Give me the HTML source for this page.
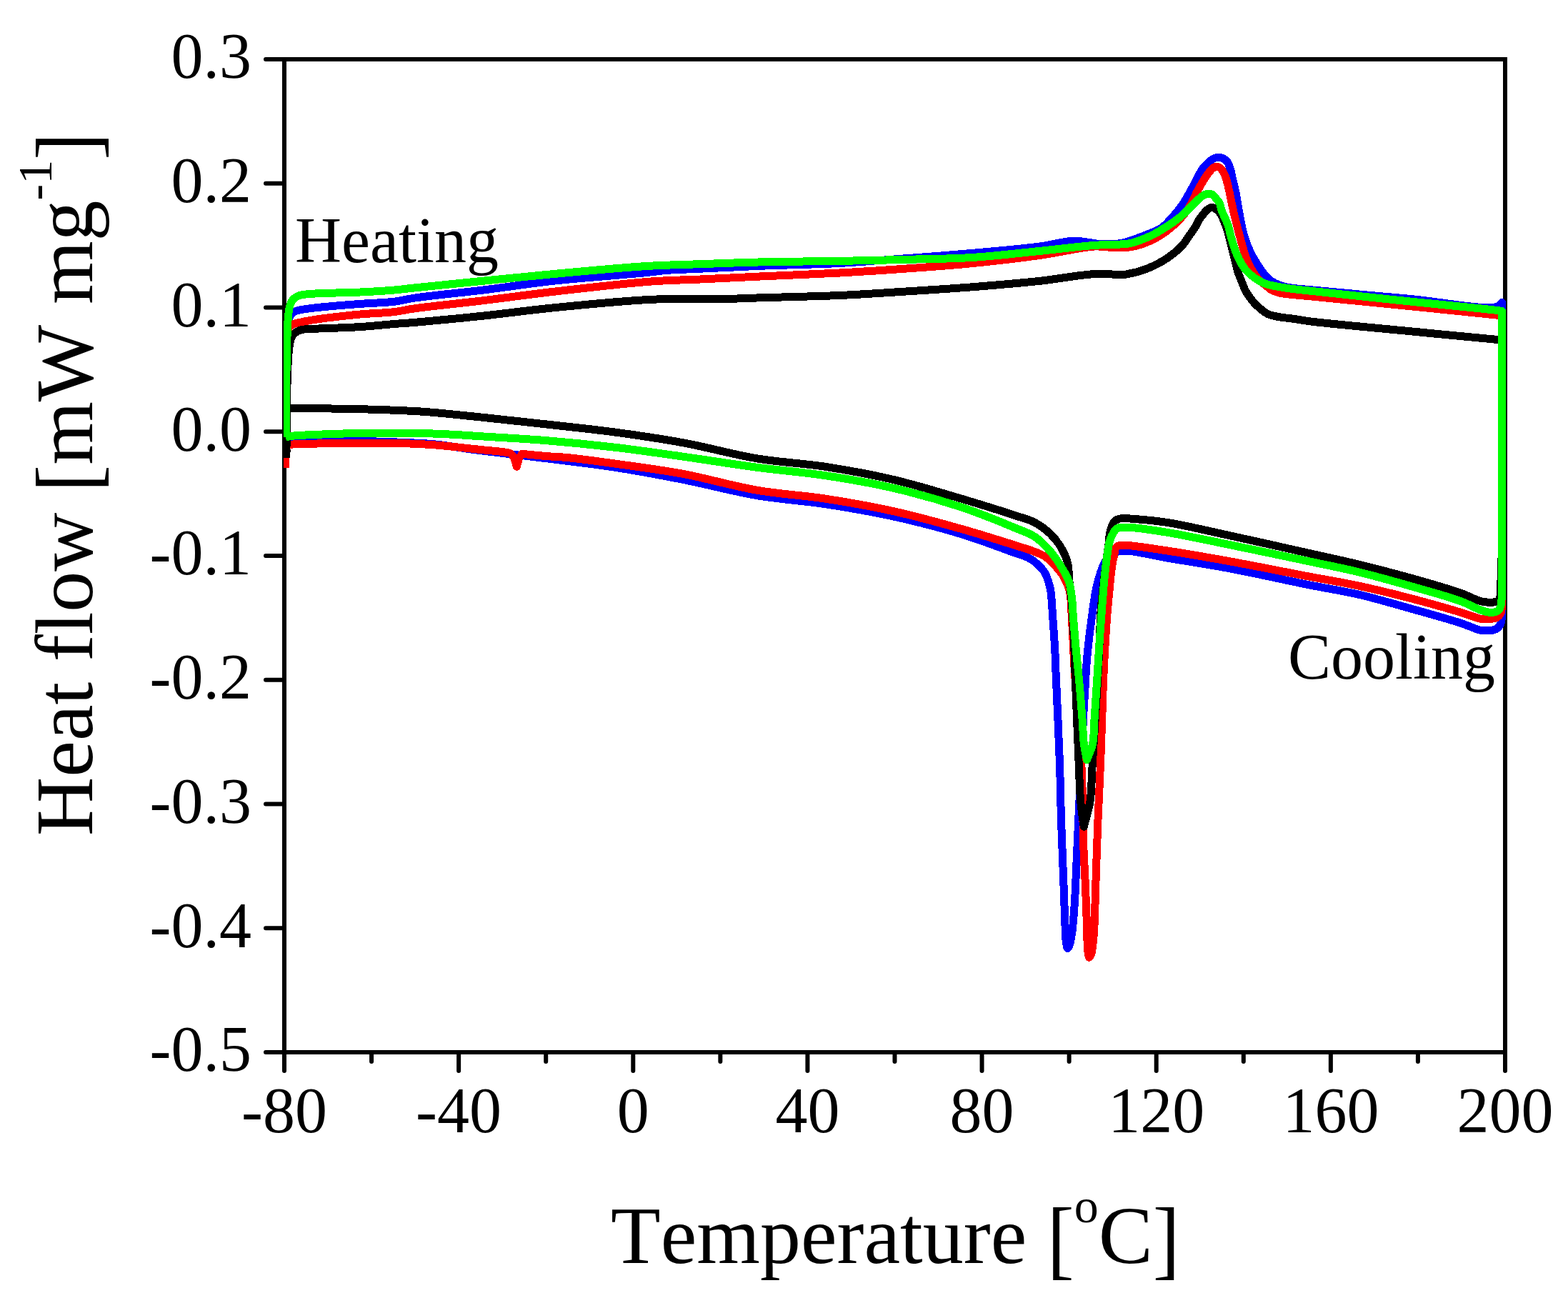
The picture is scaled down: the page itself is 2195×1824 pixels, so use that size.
<!DOCTYPE html>
<html lang="en"><head><meta charset="utf-8"><title>DSC heat flow</title>
<style>
html,body{margin:0;padding:0;background:#fff;}
body{width:2195px;height:1824px;overflow:hidden;}
svg{display:block;}
text{font-family:"Liberation Serif","Times New Roman",serif;fill:#000;font-kerning:none;font-variant-ligatures:none;font-feature-settings:"kern" 0,"liga" 0;}
.tick{font-size:90px;}
.ttl{font-size:114px;}
.ax{stroke:#000;stroke-width:6;fill:none;stroke-linecap:round;}
.cv{fill:none;stroke-width:8;stroke-linejoin:round;stroke-linecap:round;}
</style></head><body>
<svg width="2195" height="1824" viewBox="0 0 2195 1824">
<rect width="2195" height="1824" fill="#fff"/>

<g class="ax">
<path d="M398 83V1473M2107 83V1473M398 83H2107M398 1473H2107" stroke-linecap="square" shape-rendering="crispEdges"/>
<path d="M398 83.00h-26M398 256.75h-26M398 430.50h-26M398 604.25h-26M398 778.00h-26M398 951.75h-26M398 1125.50h-26M398 1299.25h-26M398 1473.00h-26M398.00 1473v26M520.07 1473v13M642.14 1473v26M764.21 1473v13M886.29 1473v26M1008.36 1473v13M1130.43 1473v26M1252.50 1473v13M1374.57 1473v26M1496.64 1473v13M1618.71 1473v26M1740.79 1473v13M1862.86 1473v26M1984.93 1473v13M2107.00 1473v26"/>
</g>
<clipPath id="pc"><rect x="397" y="60" width="1711" height="1430"/></clipPath>
<g clip-path="url(#pc)" fill="none" stroke-width="11" stroke-linejoin="round" stroke-linecap="butt" shape-rendering="crispEdges">
<path stroke="#0000ff" d="M400.0 625.0C400.2 590.0 400.1 549.8 400.5 520.0C400.8 497.8 400.5 475.0 401.8 462.0C402.5 455.3 403.3 451.0 404.5 447.0C405.3 444.2 406.2 441.8 407.5 440.0C408.5 438.6 409.5 437.7 411.0 436.8C413.0 435.6 415.4 435.0 418.7 434.2C424.0 432.9 431.1 432.1 440.2 431.0C455.8 429.2 484.2 426.9 504.0 425.4C521.1 424.1 538.1 423.9 552.0 422.2C562.8 420.9 568.2 418.9 580.5 417.1C602.9 413.8 643.6 410.0 675.7 406.1C708.5 402.1 739.7 397.1 775.0 393.2C815.1 388.8 876.4 384.5 903.8 381.7C916.6 380.4 921.3 379.4 932.0 378.5C945.9 377.4 961.7 377.1 980.0 376.2C1004.5 375.0 1035.4 373.4 1065.7 372.2C1099.9 370.8 1145.3 370.1 1175.0 368.5C1195.5 367.4 1205.7 366.4 1227.0 364.8C1261.2 362.3 1319.8 358.0 1360.5 354.4C1394.9 351.4 1429.5 348.4 1455.7 345.0C1474.3 342.6 1488.3 337.6 1503.3 337.2C1516.7 336.9 1529.6 341.2 1541.4 341.6C1551.6 342.0 1560.7 342.0 1570.0 340.3C1579.3 338.6 1588.2 335.0 1597.3 331.5C1606.8 327.9 1618.4 324.0 1626.0 318.9C1632.0 314.8 1635.7 310.0 1640.3 305.0C1645.2 299.6 1650.1 294.0 1654.6 287.5C1659.7 280.2 1664.2 271.4 1668.9 263.0C1673.8 254.4 1678.6 243.0 1683.3 236.5C1686.4 232.1 1689.4 229.2 1692.5 226.5C1695.1 224.3 1697.7 222.3 1700.2 221.3C1702.2 220.5 1704.1 220.5 1706.0 220.5C1707.9 220.5 1709.8 220.7 1711.6 221.5C1713.7 222.4 1716.0 224.0 1717.7 226.1C1719.8 228.7 1721.1 232.8 1722.4 236.7C1723.8 241.1 1724.4 246.2 1725.6 251.3C1726.9 256.9 1728.5 262.4 1729.9 269.1C1731.6 277.5 1733.0 287.9 1734.8 297.6C1736.7 307.8 1738.3 318.8 1741.3 328.9C1744.3 338.8 1747.5 347.9 1752.8 357.6C1759.1 368.9 1768.9 384.7 1777.8 392.0C1784.2 397.2 1789.8 398.9 1797.9 401.2C1809.2 404.4 1822.0 404.3 1840.0 406.2C1871.9 409.5 1929.6 414.3 1972.9 418.3C2014.3 422.1 2077.9 434.4 2094.3 429.7C2099.1 428.3 2099.8 425.6 2102.5 423.5L2102.5 423.5L2102.6 861.4L2102.6 861.4C2102.2 864.7 2102.4 868.4 2101.4 871.4C2100.5 874.1 2099.0 876.8 2097.1 878.6C2095.2 880.3 2092.6 881.4 2090.0 882.1C2087.3 882.9 2084.3 882.9 2081.4 882.9C2078.6 882.9 2076.5 883.1 2072.9 882.4C2066.1 881.0 2056.1 875.9 2044.3 872.1C2025.9 866.1 1996.7 858.1 1972.9 851.4C1949.1 844.7 1925.3 837.6 1901.4 832.1C1877.7 826.6 1856.3 823.6 1830.0 818.3C1797.3 811.7 1754.4 801.9 1720.0 795.5C1689.9 789.9 1660.6 785.6 1635.0 781.2C1614.0 777.6 1590.5 771.6 1577.6 771.1C1571.2 770.8 1567.2 771.1 1563.0 772.5C1559.3 773.7 1556.3 775.5 1553.5 778.0C1550.4 780.8 1548.1 784.2 1545.6 789.0C1541.8 796.6 1538.1 808.9 1535.3 820.3C1532.1 833.4 1530.6 847.9 1528.5 863.3C1526.0 881.0 1523.4 902.2 1521.7 920.6C1520.2 937.7 1519.5 956.2 1518.6 970.0C1518.0 980.0 1517.7 983.6 1517.0 995.8C1515.4 1025.6 1511.4 1111.1 1509.6 1150.0C1508.5 1173.7 1507.9 1188.2 1507.0 1207.3C1506.1 1226.4 1505.5 1247.2 1504.3 1264.6C1503.3 1279.3 1502.3 1294.4 1500.8 1305.0C1499.8 1311.9 1498.9 1317.9 1497.5 1322.0C1496.6 1324.5 1495.3 1327.7 1494.5 1327.6C1493.5 1327.5 1492.9 1322.1 1492.3 1318.0C1491.3 1311.1 1491.3 1300.6 1490.8 1290.0C1490.2 1276.1 1489.8 1260.4 1489.1 1241.7C1488.2 1216.0 1486.6 1180.0 1485.6 1150.0C1484.7 1121.0 1484.4 1095.2 1483.3 1064.6C1482.1 1029.2 1479.6 979.2 1478.4 950.0C1477.6 932.0 1477.4 920.7 1476.6 906.2C1475.8 891.8 1474.6 876.0 1473.7 863.3C1473.0 853.2 1472.5 843.0 1471.8 836.0C1471.4 831.5 1471.2 828.8 1470.5 825.1C1469.8 821.2 1468.7 817.3 1467.4 813.4C1466.0 809.4 1464.7 805.1 1462.4 801.4C1460.0 797.4 1456.3 793.6 1453.0 790.4C1449.9 787.5 1446.5 784.8 1443.2 782.8C1440.3 781.0 1437.7 779.9 1434.3 778.5C1430.1 776.8 1426.6 776.0 1420.0 773.7C1404.9 768.5 1372.2 755.7 1345.7 747.6C1316.1 738.6 1282.4 729.9 1250.5 722.9C1218.9 716.0 1187.0 710.6 1155.2 705.7C1123.5 700.8 1092.3 699.2 1060.0 693.7C1025.9 687.9 989.7 678.0 955.7 671.3C923.3 664.9 892.3 659.1 860.5 654.2C828.8 649.3 797.0 645.8 765.2 641.8C733.5 637.8 698.3 634.0 670.0 630.4C647.3 627.5 627.3 623.7 608.6 621.9C593.1 620.4 581.8 620.1 565.7 619.4C544.9 618.5 519.4 617.4 494.3 617.6C466.4 617.8 417.6 620.5 405.7 621.4C402.7 621.6 401.9 621.8 400.0 622.0"/>
<path stroke="#ff0000" d="M399.5 655.0C399.7 610.0 399.3 553.6 400.0 520.0C400.4 499.9 400.5 482.9 401.8 472.0C402.5 466.3 402.7 462.1 404.5 459.0C405.8 456.7 407.8 455.4 410.0 454.2C412.4 452.8 415.1 452.5 418.7 451.6C424.2 450.2 431.1 448.9 440.2 447.5C455.8 445.1 484.2 441.9 504.0 440.0C521.1 438.4 538.1 438.3 552.0 436.6C562.8 435.3 568.2 433.5 580.5 431.8C602.9 428.6 643.6 424.7 675.7 420.8C708.5 416.8 739.2 412.4 775.0 408.3C817.2 403.4 875.2 396.7 913.0 393.9C939.3 392.0 956.3 392.1 980.0 391.0C1006.8 389.8 1035.1 388.3 1065.7 386.9C1101.1 385.3 1144.7 383.7 1180.0 381.8C1210.4 380.1 1235.8 378.4 1265.0 376.3C1295.9 374.1 1328.7 371.8 1360.5 368.7C1392.3 365.5 1425.8 361.6 1455.7 357.4C1482.6 353.6 1514.9 345.9 1531.9 345.0C1540.4 344.5 1543.8 345.8 1551.0 346.0C1560.3 346.2 1572.8 347.4 1583.0 345.7C1592.9 344.1 1602.3 340.9 1611.6 336.5C1621.5 331.8 1631.8 325.0 1640.3 317.8C1648.5 310.9 1655.6 303.3 1661.8 294.6C1668.2 285.6 1672.7 273.4 1677.8 264.5C1682.0 257.1 1686.1 249.8 1690.0 244.5C1692.9 240.6 1695.9 236.6 1698.5 234.9C1700.1 233.9 1701.5 233.4 1703.0 233.4C1704.5 233.4 1706.1 233.7 1707.5 234.7C1709.4 236.0 1711.3 238.8 1712.8 241.5C1714.7 244.8 1715.8 248.1 1717.4 253.5C1720.5 263.9 1724.3 286.1 1727.7 300.3C1730.5 312.2 1733.5 323.2 1736.1 332.9C1738.2 340.7 1739.9 347.5 1742.1 354.1C1744.1 360.1 1746.3 366.1 1748.7 371.1C1750.8 375.4 1753.1 379.0 1755.5 382.5C1757.7 385.8 1759.6 388.7 1762.4 391.6C1765.6 395.0 1770.7 398.7 1774.0 401.4C1776.4 403.3 1777.9 404.9 1780.4 406.2C1783.2 407.7 1786.6 408.9 1790.2 409.8C1794.3 410.9 1798.5 411.3 1803.9 412.0C1811.6 413.0 1822.9 413.7 1832.3 414.6C1841.7 415.5 1847.9 416.2 1860.4 417.4C1885.4 419.9 1934.7 424.7 1972.9 428.6C2012.6 432.6 2077.6 439.1 2094.3 441.0C2098.6 441.5 2099.8 441.7 2102.5 442.0L2102.5 442.0L2102.6 850.0L2102.6 850.0C2102.0 852.9 2101.9 856.2 2100.7 858.6C2099.6 860.9 2097.8 863.0 2095.7 864.3C2093.4 865.7 2090.0 866.0 2087.1 866.4C2084.3 866.8 2081.2 866.7 2078.6 866.7C2076.5 866.7 2075.5 866.9 2072.9 866.4C2067.0 865.3 2056.0 860.6 2044.3 857.1C2025.9 851.5 1996.8 843.3 1972.9 837.1C1949.1 830.9 1925.3 825.1 1901.4 820.0C1877.7 814.9 1856.4 811.6 1830.0 806.6C1797.3 800.4 1754.3 791.7 1720.0 785.5C1689.9 780.1 1660.6 775.0 1635.0 771.1C1614.0 767.9 1588.3 764.1 1577.6 763.3C1573.5 763.0 1571.4 762.9 1569.0 763.2C1567.2 763.4 1565.8 763.7 1564.5 764.5C1563.3 765.3 1562.2 766.5 1561.5 768.0C1560.5 770.0 1560.5 773.1 1559.9 775.9C1559.2 779.2 1558.4 782.8 1557.7 786.6C1556.9 791.0 1556.3 795.7 1555.6 801.0C1554.8 807.4 1554.2 814.1 1553.4 822.4C1552.3 833.8 1550.8 848.5 1549.7 863.3C1548.4 880.8 1547.1 902.2 1546.1 920.6C1545.2 937.7 1544.6 950.9 1543.9 970.0C1542.9 996.5 1541.9 1033.9 1540.7 1064.6C1539.6 1093.8 1538.1 1121.0 1536.9 1150.0C1535.7 1180.0 1534.6 1214.7 1533.7 1241.7C1533.0 1263.0 1532.7 1283.6 1531.8 1299.0C1531.2 1309.4 1530.5 1318.1 1529.5 1325.0C1528.9 1329.6 1528.4 1333.8 1527.3 1336.5C1526.6 1338.2 1525.6 1340.4 1524.9 1340.3C1524.0 1340.2 1523.5 1336.1 1523.0 1333.0C1522.2 1327.5 1522.1 1318.4 1521.8 1310.0C1521.4 1299.8 1521.2 1287.4 1520.8 1276.0C1520.4 1264.6 1520.0 1254.6 1519.5 1241.7C1518.8 1225.0 1517.6 1206.2 1516.8 1184.0C1515.7 1153.6 1515.9 1113.4 1514.1 1076.0C1512.1 1035.6 1507.4 987.3 1505.0 950.0C1503.1 920.3 1501.9 891.6 1500.6 870.0C1499.7 855.3 1499.7 842.1 1498.3 833.0C1497.5 827.6 1496.5 823.8 1495.2 820.2C1494.1 817.3 1492.8 815.3 1491.5 812.8C1490.2 810.3 1489.3 807.7 1487.6 805.1C1485.6 801.9 1482.6 798.4 1480.0 795.3C1477.5 792.3 1475.2 789.5 1472.4 786.8C1469.5 784.0 1466.5 781.3 1462.8 779.0C1458.7 776.4 1454.3 774.7 1448.7 772.5C1440.9 769.4 1431.8 766.8 1420.0 763.0C1401.0 757.0 1372.1 747.8 1345.7 740.4C1316.0 732.0 1282.4 722.7 1250.5 715.6C1218.9 708.6 1187.0 703.0 1155.2 698.1C1123.5 693.2 1092.3 691.9 1060.0 686.3C1025.9 680.4 989.8 669.6 955.7 663.3C923.3 657.3 889.2 653.0 860.5 649.0C836.8 645.7 813.3 642.4 795.7 640.7C783.7 639.5 775.7 639.5 765.2 638.6C754.1 637.7 742.4 636.4 731.0 635.3L731.0 635.3C729.7 637.2 728.2 638.6 727.0 641.0C725.4 644.2 724.5 649.1 723.3 653.2L723.3 653.2C722.0 649.1 721.2 644.2 719.5 641.0C718.2 638.5 716.9 636.3 715.0 635.0C713.1 633.7 711.4 633.8 708.1 633.2C700.5 631.8 684.2 630.7 670.0 629.2C652.0 627.3 627.3 624.3 608.6 622.9C593.0 621.7 581.8 621.1 565.7 620.7C544.9 620.1 516.0 620.3 494.3 620.4C476.2 620.5 459.9 620.6 444.3 621.0C430.6 621.3 412.8 621.7 405.7 622.3C402.9 622.5 401.9 622.8 400.0 623.0"/>
<path stroke="#000000" d="M401.0 640.7C401.1 620.5 400.9 600.2 401.2 580.0C401.5 559.9 401.9 536.7 402.6 520.0C403.1 508.0 403.6 497.3 404.6 489.0C405.3 483.4 405.7 478.7 407.0 475.0C407.9 472.3 409.0 470.2 410.5 468.3C412.0 466.5 414.0 465.1 416.0 464.0C418.1 462.8 420.1 462.0 423.0 461.4C427.4 460.5 432.6 460.7 440.2 460.3C454.7 459.5 484.3 458.9 504.0 457.6C521.1 456.5 538.1 454.6 552.0 453.5C562.7 452.6 568.2 452.4 580.5 451.4C603.0 449.5 643.6 445.6 675.7 442.2C708.5 438.7 739.1 434.4 775.0 430.8C817.3 426.6 871.4 421.1 913.3 419.2C948.0 417.7 980.9 419.2 1008.6 418.7C1030.1 418.3 1043.4 417.5 1065.7 416.8C1097.3 415.8 1144.7 414.9 1180.0 413.3C1210.4 411.9 1235.8 410.1 1265.0 408.2C1295.9 406.2 1328.7 404.3 1360.5 401.8C1392.3 399.3 1425.8 396.5 1455.7 393.3C1482.5 390.4 1510.8 384.7 1531.9 383.6C1546.7 382.8 1562.9 384.7 1570.0 384.5C1572.8 384.4 1573.2 384.5 1575.8 384.1C1581.8 383.1 1595.1 380.1 1604.5 376.5C1614.2 372.8 1624.5 367.6 1633.1 361.9C1641.1 356.6 1648.9 350.2 1654.6 344.0C1659.4 338.9 1662.7 332.9 1666.0 328.2C1668.7 324.4 1671.1 321.2 1673.2 317.8C1675.0 314.7 1676.1 311.6 1677.9 308.8C1679.6 306.0 1681.6 303.4 1683.6 300.9C1685.6 298.3 1687.9 295.3 1690.0 293.5C1691.5 292.2 1693.0 291.3 1694.5 290.8C1695.8 290.4 1697.2 290.3 1698.5 290.6C1699.7 290.9 1700.8 291.6 1702.0 292.5C1703.7 293.7 1705.8 295.5 1707.3 297.5C1709.0 299.7 1710.3 302.4 1711.6 305.2C1713.1 308.4 1714.7 312.6 1715.9 315.9C1716.9 318.6 1717.6 320.3 1718.5 323.5C1720.0 328.5 1721.9 336.9 1723.5 343.3C1725.0 349.4 1726.5 354.9 1728.0 361.0C1729.7 367.5 1731.2 375.4 1733.1 381.3C1734.6 386.0 1736.3 389.4 1738.0 393.6C1739.8 398.0 1741.5 403.2 1743.5 407.0C1745.2 410.2 1746.9 412.5 1748.9 415.2C1751.0 418.1 1753.0 421.0 1755.6 423.9C1758.7 427.2 1762.9 431.0 1766.4 433.8C1769.4 436.2 1771.6 438.2 1775.1 439.8C1779.3 441.7 1784.5 442.5 1790.0 443.6C1796.6 444.9 1804.8 445.4 1812.2 446.5C1819.8 447.6 1824.2 448.6 1835.0 450.0C1861.5 453.3 1928.4 459.3 1972.9 463.6C2014.7 467.7 2077.5 473.8 2094.3 475.3C2098.7 475.7 2099.8 475.8 2102.6 476.0L2102.6 476.0C2102.6 576.7 2104.9 753.2 2102.6 778.0C2102.3 781.5 2101.7 781.3 2101.5 784.0C2101.0 789.6 2102.0 804.4 2101.5 810.0C2101.3 812.7 2100.7 813.6 2100.5 816.0C2100.2 819.7 2100.3 825.3 2100.2 830.0L2100.2 830.0C2100.0 832.4 2100.2 835.1 2099.6 837.1C2099.1 838.8 2098.4 840.4 2097.1 841.4C2095.7 842.5 2093.5 842.6 2091.4 842.9C2088.9 843.3 2085.8 843.3 2082.9 843.1C2079.7 842.9 2077.0 842.8 2072.9 841.7C2065.7 839.8 2056.1 834.2 2044.3 830.0C2026.0 823.5 1996.8 815.3 1972.9 808.6C1949.1 802.0 1925.3 795.8 1901.4 790.0C1877.6 784.2 1856.4 779.8 1830.0 773.9C1797.3 766.6 1754.3 756.8 1720.0 749.4C1689.9 742.9 1658.9 735.4 1635.0 731.6C1617.7 728.8 1600.8 727.5 1590.0 726.6C1584.0 726.1 1580.3 725.8 1576.0 725.8C1572.4 725.8 1568.8 725.5 1566.0 726.4C1563.7 727.1 1561.9 728.1 1560.3 729.8C1558.4 731.7 1557.2 734.9 1556.0 737.8C1554.7 741.1 1553.9 744.8 1553.2 748.7C1552.4 753.1 1552.4 758.2 1551.8 763.0C1551.2 767.8 1550.6 770.7 1549.7 777.3C1547.8 792.0 1543.3 826.4 1541.5 849.0C1539.9 869.1 1539.7 888.2 1538.9 906.0C1538.2 921.6 1537.6 934.4 1536.7 950.0C1535.7 967.8 1534.4 987.3 1533.2 1007.3C1531.8 1029.2 1530.2 1055.4 1528.9 1076.0C1527.8 1092.8 1528.2 1107.7 1526.0 1121.9C1524.0 1134.6 1520.1 1145.5 1517.2 1157.3L1517.2 1157.3C1515.7 1145.5 1513.9 1135.1 1512.7 1121.9C1511.2 1105.1 1511.0 1087.0 1510.0 1064.6C1508.6 1033.0 1506.4 979.2 1505.3 950.0C1504.6 932.0 1504.4 920.7 1503.8 906.2C1503.2 891.8 1502.5 876.2 1501.7 863.3C1501.0 852.8 1500.4 843.5 1499.5 834.6C1498.7 826.9 1497.7 820.5 1496.9 813.1C1496.0 805.1 1496.6 796.0 1494.5 788.0C1492.4 780.0 1488.7 772.0 1484.5 765.1C1480.5 758.5 1475.8 752.6 1470.1 747.2C1464.0 741.4 1456.6 735.7 1448.7 731.5C1440.6 727.2 1433.2 725.7 1421.9 721.9C1403.0 715.6 1372.6 706.1 1345.7 698.1C1315.8 689.2 1282.4 678.9 1250.5 671.4C1218.9 664.0 1187.0 658.2 1155.2 653.3C1123.5 648.4 1092.3 647.3 1060.0 641.9C1025.9 636.2 989.8 625.9 955.7 619.7C923.3 613.8 892.3 609.3 860.5 605.0C828.8 600.7 797.0 597.6 765.2 594.0C733.5 590.5 699.9 586.8 670.0 583.7C643.3 581.0 617.8 578.1 594.3 576.4C573.9 574.9 556.7 574.4 537.1 573.7C516.3 573.0 494.5 572.4 472.9 572.1C450.8 571.8 415.1 571.8 405.7 571.9C403.2 571.9 402.6 572.0 401.0 572.0"/>
<path stroke="#00ff00" d="M400.0 612.0C400.3 581.3 400.5 548.4 401.0 520.0C401.5 495.6 401.7 468.4 402.8 452.0C403.5 442.6 403.8 435.8 405.3 430.0C406.3 426.0 407.2 423.0 409.3 420.3C411.5 417.5 414.8 415.2 418.7 413.7C423.6 411.8 429.0 412.0 437.0 411.3C452.3 410.0 483.5 410.0 504.0 409.0C521.3 408.2 538.1 407.2 552.0 406.0C562.7 405.1 568.2 404.2 580.5 402.9C602.9 400.5 643.6 396.5 675.7 393.3C708.4 390.0 739.7 386.7 775.0 383.5C815.1 379.8 866.4 374.9 903.8 372.6C932.5 370.8 953.9 370.6 980.0 369.7C1007.7 368.7 1035.1 367.6 1065.7 366.9C1101.1 366.1 1144.7 365.9 1180.0 365.3C1210.5 364.7 1236.0 364.2 1265.2 363.4C1296.1 362.6 1328.8 362.5 1360.5 360.5C1392.3 358.5 1425.7 354.4 1455.7 351.4C1482.5 348.7 1510.8 344.9 1531.9 343.4C1546.8 342.3 1560.6 342.6 1570.0 341.9C1575.5 341.5 1577.9 341.6 1583.0 340.4C1590.8 338.5 1602.3 334.2 1611.6 329.7C1621.4 325.0 1632.7 317.6 1640.3 312.5C1645.5 309.0 1649.2 306.1 1653.1 302.9C1656.5 300.0 1659.3 297.3 1662.4 294.3C1665.7 291.1 1669.0 287.5 1672.4 284.2C1675.7 281.0 1679.5 277.0 1682.5 274.9C1684.5 273.5 1686.2 272.5 1688.0 271.9C1689.5 271.4 1691.0 271.1 1692.5 271.2C1694.1 271.3 1695.9 271.5 1697.5 272.5C1699.6 273.8 1701.7 277.0 1703.4 279.2C1705.0 281.2 1706.4 282.8 1707.5 285.1C1708.8 287.9 1709.1 291.7 1710.3 295.0C1711.6 298.5 1713.6 302.1 1715.1 305.7C1716.6 309.3 1718.2 312.7 1719.4 316.5C1720.7 320.4 1721.1 323.9 1722.5 328.9C1724.7 336.5 1728.0 348.9 1732.0 357.6C1735.6 365.5 1739.1 372.8 1744.9 379.1C1751.2 385.9 1760.3 392.3 1769.2 396.3C1778.0 400.2 1787.4 401.0 1797.9 402.8C1810.5 405.0 1822.0 405.8 1840.0 407.8C1871.9 411.4 1929.6 417.4 1972.9 421.9C2014.3 426.2 2077.6 432.2 2094.3 434.3C2098.6 434.8 2099.8 435.1 2102.5 435.5L2102.5 435.5L2102.4 835.7L2102.4 835.7C2101.8 840.0 2101.9 845.1 2100.7 848.6C2099.8 851.2 2098.8 853.6 2097.1 855.0C2095.6 856.3 2093.3 856.7 2091.4 857.1C2089.5 857.5 2088.0 857.6 2085.7 857.4C2082.3 857.0 2077.9 855.8 2072.9 854.0C2065.2 851.3 2056.1 845.8 2044.3 841.4C2026.0 834.7 1996.8 826.8 1972.9 820.0C1949.1 813.2 1925.3 806.5 1901.4 800.7C1877.7 794.9 1856.4 790.9 1830.0 785.3C1797.3 778.4 1754.3 769.3 1720.0 762.3C1689.9 756.2 1660.6 749.7 1635.0 745.5C1614.1 742.1 1590.3 738.2 1577.6 738.2C1571.2 738.2 1567.1 737.5 1563.3 740.0C1559.0 742.8 1556.2 749.9 1554.0 755.8C1551.6 762.2 1551.1 769.6 1549.9 777.3C1548.5 786.2 1547.5 795.5 1546.4 806.0C1545.1 818.9 1543.9 834.6 1542.8 848.9C1541.7 863.2 1540.6 877.6 1539.6 891.9C1538.6 906.2 1537.9 918.7 1536.8 934.9C1535.4 955.9 1533.4 987.6 1532.0 1007.3C1531.1 1020.9 1531.7 1031.6 1529.5 1041.7C1527.7 1050.0 1524.1 1056.4 1521.4 1063.7L1521.4 1063.7C1520.1 1056.4 1518.4 1049.9 1517.4 1041.7C1516.1 1031.5 1516.1 1020.2 1515.1 1007.3C1513.9 990.6 1512.0 967.8 1510.4 950.0C1509.0 934.4 1507.3 920.7 1506.0 906.2C1504.7 891.8 1503.4 876.2 1502.4 863.3C1501.6 852.8 1501.4 843.5 1500.2 834.6C1499.2 826.9 1498.5 820.0 1496.0 813.0C1493.4 805.6 1488.8 798.5 1484.5 791.6C1480.2 784.7 1475.7 778.0 1470.1 771.6C1464.0 764.6 1456.9 756.9 1448.7 751.5C1440.2 745.9 1431.9 743.6 1420.0 738.6C1401.1 730.7 1372.2 718.7 1345.7 709.9C1316.1 700.1 1282.4 690.6 1250.5 683.2C1218.9 675.9 1187.0 670.5 1155.2 665.7C1123.5 660.9 1092.4 658.6 1060.0 654.3C1026.0 649.8 989.7 643.9 955.7 639.1C923.3 634.5 892.3 629.9 860.5 626.2C828.8 622.5 797.0 619.3 765.2 616.7C733.5 614.1 693.5 612.1 670.0 610.6C656.2 609.7 648.7 609.0 637.0 608.4C623.7 607.7 611.5 607.0 594.3 606.7C568.0 606.2 523.0 606.2 494.3 606.7C472.6 607.1 452.8 607.9 437.0 608.6C425.9 609.1 415.3 609.4 408.6 610.3C404.9 610.8 402.9 611.4 400.0 612.0"/>
</g>
<g class="tick">
<text x="352" y="109.4" text-anchor="end">0.3</text>
<text x="352" y="283.1" text-anchor="end">0.2</text>
<text x="352" y="456.9" text-anchor="end">0.1</text>
<text x="352" y="630.7" text-anchor="end">0.0</text>
<text x="352" y="804.4" text-anchor="end">-0.1</text>
<text x="352" y="978.1" text-anchor="end">-0.2</text>
<text x="352" y="1151.9" text-anchor="end">-0.3</text>
<text x="352" y="1325.7" text-anchor="end">-0.4</text>
<text x="352" y="1499.4" text-anchor="end">-0.5</text>
<text x="398.0" y="1585" text-anchor="middle">-80</text>
<text x="642.1" y="1585" text-anchor="middle">-40</text>
<text x="886.3" y="1585" text-anchor="middle">0</text>
<text x="1130.4" y="1585" text-anchor="middle">40</text>
<text x="1374.6" y="1585" text-anchor="middle">80</text>
<text x="1618.7" y="1585" text-anchor="middle">120</text>
<text x="1862.9" y="1585" text-anchor="middle">160</text>
<text x="2107.0" y="1585" text-anchor="middle">200</text>
<text x="413" y="367">Heating</text>
<text x="1803" y="949.5">Cooling</text>
</g>
<g class="ttl">
<text x="855" y="1768">Temperature <tspan dx="37.97" dy="-57" font-size="68">o</tspan><tspan dy="57">C</tspan></text>
<text transform="translate(1465.80 1775.6) scale(1 1.075)">[</text>
<text transform="translate(1613.80 1775.6) scale(1 1.075)">]</text>
<text transform="translate(128.5 1170) rotate(-90)">Heat flow <tspan dx="37.97">mW mg</tspan><tspan dy="-57" font-size="68">-1</tspan></text>
<text transform="translate(128.5 1170) rotate(-90) translate(481.16 7.6) scale(1 1.075)">[</text>
<text transform="translate(128.5 1170) rotate(-90) translate(946.23 7.6) scale(1 1.075)">]</text>
</g>
</svg></body></html>
